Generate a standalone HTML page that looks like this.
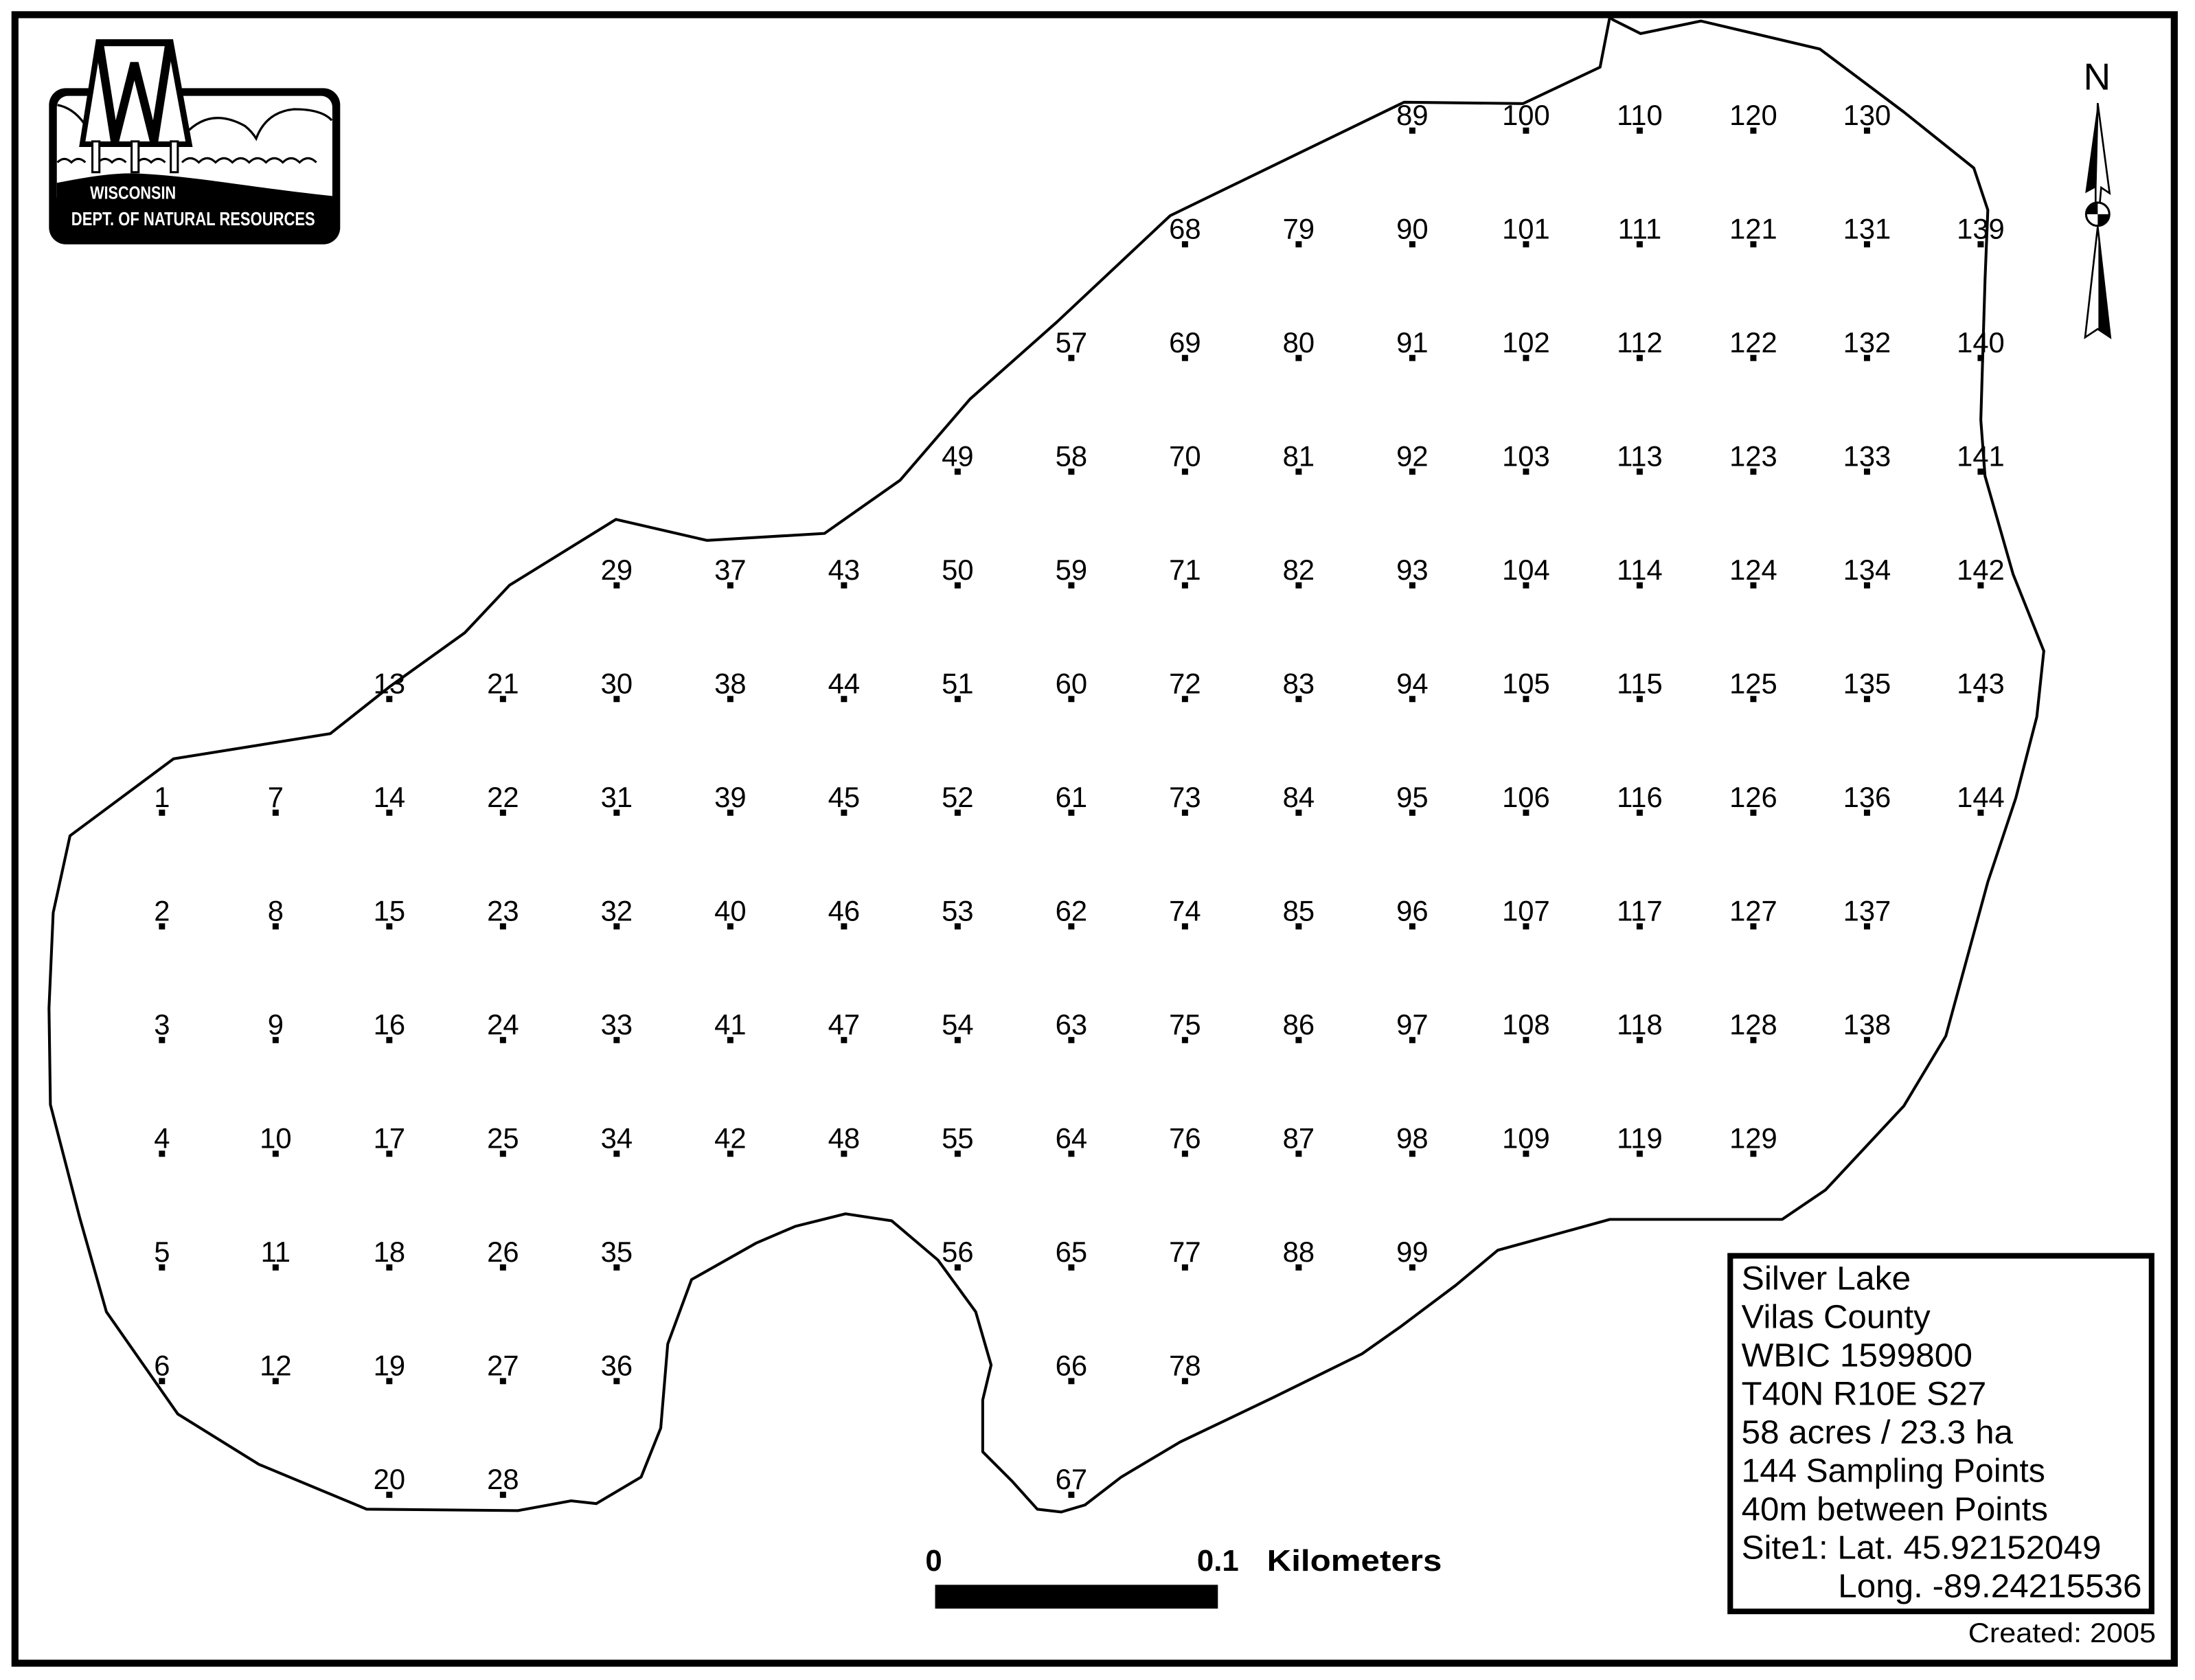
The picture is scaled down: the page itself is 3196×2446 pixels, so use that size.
<!DOCTYPE html>
<html><head><meta charset="utf-8"><style>
html,body{margin:0;padding:0;background:#fff;}
svg{display:block;}
.l text{font-family:"Liberation Sans",Arial,sans-serif;font-size:20.5px;text-anchor:middle;fill:#000;}
</style></head><body>
<svg width="3196" height="2446" viewBox="0 0 1568 1200" preserveAspectRatio="none" xmlns="http://www.w3.org/2000/svg">
<defs><rect id="d" x="-2.2" y="-2.2" width="4.4" height="4.4" fill="#000"/></defs>
<rect x="0" y="0" width="1568" height="1200" fill="#fff"/>
<rect x="10.7" y="10.5" width="1542.5" height="1177.5" fill="none" stroke="#000" stroke-width="5"/>

<polygon fill="none" stroke="#000" stroke-width="2" stroke-linejoin="round" points="1150,12 1143,48 1088,74 1003,73 836,154 755,230 693,285 643,343 589,381 505,386 440,371 364,418 332,452 279,490 236,524 124,542 50,597 38,652 35,720 36,789 57,870 76,937 127,1010 185,1046 262,1078 370,1079 408,1072 426,1074 458,1055 472,1020 477,960 494,914 540,888 568,876 604,867 637,872 670,900 697,937 708,975 702,1000 702,1037 723,1058 741,1078 758,1080 775,1075 801,1055 843,1030 910,998 973,967 1000,948 1040,918 1070,893 1150,871 1273,871 1304,850 1360,790 1390,740 1420,630 1440,570 1455,512 1460,465 1438,410 1418,340 1415,300 1418,200 1420,150 1410,120 1360,80 1300,35 1215,15 1172,24 1152,14"/>

<g>
<rect x="35" y="63" width="208" height="111.5" rx="12" fill="#000"/>
<rect x="40.6" y="68.5" width="196.8" height="80" rx="8" fill="#fff"/>
<path d="M40.6,130.6 C60,127 80,123 100,124 C140,126 180,134 237.4,140 L237.4,170 L40.6,170 Z" fill="#000"/>
<path d="M41,75 Q52,77 60,88 M132,96 Q150,76 175,90 Q180,94 183,99 Q190,80 210,78 Q230,78 237,86" fill="none" stroke="#000" stroke-width="1.6"/>
<path d="M41,116 q5,-5 10,0 q5,-5 10,0 M70,116 q5,-5 10,0 q5,-5 10,0 M98,116 q5,-5 10,0 q5,-5 10,0 M130,116 q6,-6 12,0 q6,-6 12,0 q6,-6 12,0 q6,-6 12,0 q6,-6 12,0 q6,-6 12,0 q6,-6 12,0 q6,-6 12,0" fill="none" stroke="#000" stroke-width="1.5"/>
<polygon points="68.6,28 123.6,28 137.6,105 56.5,105" fill="#000"/>
<polygon points="72,33 120,33 132.5,101 61,101" fill="#fff"/>
<polyline points="71,31 82,101 96,45 110,101 121,31" fill="none" stroke="#000" stroke-width="6" stroke-linejoin="miter"/>
<rect x="66" y="101" width="5" height="22" fill="#fff" stroke="#000" stroke-width="1.5"/>
<rect x="94" y="101" width="5" height="22" fill="#fff" stroke="#000" stroke-width="1.5"/>
<rect x="122" y="101" width="5" height="22" fill="#fff" stroke="#000" stroke-width="1.5"/>
<text x="95" y="142" font-family="Liberation Sans,Arial,sans-serif" font-weight="bold" font-size="12.5" fill="#fff" text-anchor="middle" transform="translate(95,0) scale(0.85,1) translate(-95,0)">WISCONSIN</text>
<text x="138" y="161" font-family="Liberation Sans,Arial,sans-serif" font-weight="bold" font-size="13.5" fill="#fff" text-anchor="middle" transform="translate(138,0) scale(0.8,1) translate(-138,0)">DEPT. OF NATURAL RESOURCES</text>
</g>

<g>
<text x="1498" y="64" font-family="Liberation Sans,Arial,sans-serif" font-size="27" text-anchor="middle">N</text>
<polygon points="1498.5,73.6 1489.6,138 1497,134 1498.5,134" fill="#000"/>
<polygon points="1498.5,73.6 1507,138 1501,134 1500,145 1497,145 1497,134" fill="#fff" stroke="#000" stroke-width="1.3"/>
<circle cx="1498.5" cy="153" r="8.3" fill="#fff" stroke="#000" stroke-width="1.5"/>
<path d="M1498.5,153 L1490.2,153 A8.3,8.3 0 0 1 1498.5,144.7 Z" fill="#000"/>
<path d="M1498.5,153 L1506.8,153 A8.3,8.3 0 0 1 1498.5,161.3 Z" fill="#000"/>
<polygon points="1498.5,162 1489.5,241 1498.5,235 1507.5,241" fill="#fff" stroke="#000" stroke-width="1.3"/>
<polygon points="1499,165 1507.5,241 1499,235" fill="#000"/>
</g>

<g font-family="Liberation Sans,Arial,sans-serif" font-weight="bold" font-size="21.5">
<text x="667" y="1122" text-anchor="middle">0</text>
<text x="870" y="1122" text-anchor="middle">0.1</text>
<text x="905" y="1122" textLength="125" lengthAdjust="spacingAndGlyphs">Kilometers</text>
<rect x="668" y="1132" width="202" height="17" fill="#000"/>
</g>

<rect x="1236" y="897" width="301" height="254" fill="#fff" stroke="#000" stroke-width="4"/>
<g font-family="Liberation Sans,Arial,sans-serif" font-size="23.5" fill="#000">
<text x="1244" y="921" textLength="121" lengthAdjust="spacingAndGlyphs">Silver Lake</text>
<text x="1244" y="948.5" textLength="135" lengthAdjust="spacingAndGlyphs">Vilas County</text>
<text x="1244" y="976" textLength="165" lengthAdjust="spacingAndGlyphs">WBIC 1599800</text>
<text x="1244" y="1003.5" textLength="175" lengthAdjust="spacingAndGlyphs">T40N R10E S27</text>
<text x="1244" y="1031" textLength="194" lengthAdjust="spacingAndGlyphs">58 acres / 23.3 ha</text>
<text x="1244" y="1058.5" textLength="217" lengthAdjust="spacingAndGlyphs">144 Sampling Points</text>
<text x="1244" y="1086" textLength="219" lengthAdjust="spacingAndGlyphs">40m between Points</text>
<text x="1244" y="1113.5" textLength="257" lengthAdjust="spacingAndGlyphs">Site1: Lat. 45.92152049</text>
<text x="1313" y="1141" textLength="217" lengthAdjust="spacingAndGlyphs">Long. -89.24215536</text>
</g>
<text x="1406" y="1173" font-family="Liberation Sans,Arial,sans-serif" font-size="19.5" textLength="134" lengthAdjust="spacingAndGlyphs">Created: 2005</text>

<g class="l">
<g transform="translate(115.7,580.5)"><text y="-4">1</text><use href="#d"/></g>
<g transform="translate(115.7,661.7)"><text y="-4">2</text><use href="#d"/></g>
<g transform="translate(115.7,742.9)"><text y="-4">3</text><use href="#d"/></g>
<g transform="translate(115.7,824.1)"><text y="-4">4</text><use href="#d"/></g>
<g transform="translate(115.7,905.3)"><text y="-4">5</text><use href="#d"/></g>
<g transform="translate(115.7,986.5)"><text y="-4">6</text><use href="#d"/></g>

<g transform="translate(196.9,580.5)"><text y="-4">7</text><use href="#d"/></g>
<g transform="translate(196.9,661.7)"><text y="-4">8</text><use href="#d"/></g>
<g transform="translate(196.9,742.9)"><text y="-4">9</text><use href="#d"/></g>
<g transform="translate(196.9,824.1)"><text y="-4">10</text><use href="#d"/></g>
<g transform="translate(196.9,905.3)"><text y="-4">11</text><use href="#d"/></g>
<g transform="translate(196.9,986.5)"><text y="-4">12</text><use href="#d"/></g>

<g transform="translate(278.1,499.3)"><text y="-4">13</text><use href="#d"/></g>
<g transform="translate(278.1,580.5)"><text y="-4">14</text><use href="#d"/></g>
<g transform="translate(278.1,661.7)"><text y="-4">15</text><use href="#d"/></g>
<g transform="translate(278.1,742.9)"><text y="-4">16</text><use href="#d"/></g>
<g transform="translate(278.1,824.1)"><text y="-4">17</text><use href="#d"/></g>
<g transform="translate(278.1,905.3)"><text y="-4">18</text><use href="#d"/></g>
<g transform="translate(278.1,986.5)"><text y="-4">19</text><use href="#d"/></g>
<g transform="translate(278.1,1067.7)"><text y="-4">20</text><use href="#d"/></g>

<g transform="translate(359.3,499.3)"><text y="-4">21</text><use href="#d"/></g>
<g transform="translate(359.3,580.5)"><text y="-4">22</text><use href="#d"/></g>
<g transform="translate(359.3,661.7)"><text y="-4">23</text><use href="#d"/></g>
<g transform="translate(359.3,742.9)"><text y="-4">24</text><use href="#d"/></g>
<g transform="translate(359.3,824.1)"><text y="-4">25</text><use href="#d"/></g>
<g transform="translate(359.3,905.3)"><text y="-4">26</text><use href="#d"/></g>
<g transform="translate(359.3,986.5)"><text y="-4">27</text><use href="#d"/></g>
<g transform="translate(359.3,1067.7)"><text y="-4">28</text><use href="#d"/></g>

<g transform="translate(440.5,418.1)"><text y="-4">29</text><use href="#d"/></g>
<g transform="translate(440.5,499.3)"><text y="-4">30</text><use href="#d"/></g>
<g transform="translate(440.5,580.5)"><text y="-4">31</text><use href="#d"/></g>
<g transform="translate(440.5,661.7)"><text y="-4">32</text><use href="#d"/></g>
<g transform="translate(440.5,742.9)"><text y="-4">33</text><use href="#d"/></g>
<g transform="translate(440.5,824.1)"><text y="-4">34</text><use href="#d"/></g>
<g transform="translate(440.5,905.3)"><text y="-4">35</text><use href="#d"/></g>
<g transform="translate(440.5,986.5)"><text y="-4">36</text><use href="#d"/></g>

<g transform="translate(521.7,418.1)"><text y="-4">37</text><use href="#d"/></g>
<g transform="translate(521.7,499.3)"><text y="-4">38</text><use href="#d"/></g>
<g transform="translate(521.7,580.5)"><text y="-4">39</text><use href="#d"/></g>
<g transform="translate(521.7,661.7)"><text y="-4">40</text><use href="#d"/></g>
<g transform="translate(521.7,742.9)"><text y="-4">41</text><use href="#d"/></g>
<g transform="translate(521.7,824.1)"><text y="-4">42</text><use href="#d"/></g>

<g transform="translate(602.9,418.1)"><text y="-4">43</text><use href="#d"/></g>
<g transform="translate(602.9,499.3)"><text y="-4">44</text><use href="#d"/></g>
<g transform="translate(602.9,580.5)"><text y="-4">45</text><use href="#d"/></g>
<g transform="translate(602.9,661.7)"><text y="-4">46</text><use href="#d"/></g>
<g transform="translate(602.9,742.9)"><text y="-4">47</text><use href="#d"/></g>
<g transform="translate(602.9,824.1)"><text y="-4">48</text><use href="#d"/></g>

<g transform="translate(684.1,336.9)"><text y="-4">49</text><use href="#d"/></g>
<g transform="translate(684.1,418.1)"><text y="-4">50</text><use href="#d"/></g>
<g transform="translate(684.1,499.3)"><text y="-4">51</text><use href="#d"/></g>
<g transform="translate(684.1,580.5)"><text y="-4">52</text><use href="#d"/></g>
<g transform="translate(684.1,661.7)"><text y="-4">53</text><use href="#d"/></g>
<g transform="translate(684.1,742.9)"><text y="-4">54</text><use href="#d"/></g>
<g transform="translate(684.1,824.1)"><text y="-4">55</text><use href="#d"/></g>
<g transform="translate(684.1,905.3)"><text y="-4">56</text><use href="#d"/></g>

<g transform="translate(765.3,255.7)"><text y="-4">57</text><use href="#d"/></g>
<g transform="translate(765.3,336.9)"><text y="-4">58</text><use href="#d"/></g>
<g transform="translate(765.3,418.1)"><text y="-4">59</text><use href="#d"/></g>
<g transform="translate(765.3,499.3)"><text y="-4">60</text><use href="#d"/></g>
<g transform="translate(765.3,580.5)"><text y="-4">61</text><use href="#d"/></g>
<g transform="translate(765.3,661.7)"><text y="-4">62</text><use href="#d"/></g>
<g transform="translate(765.3,742.9)"><text y="-4">63</text><use href="#d"/></g>
<g transform="translate(765.3,824.1)"><text y="-4">64</text><use href="#d"/></g>
<g transform="translate(765.3,905.3)"><text y="-4">65</text><use href="#d"/></g>
<g transform="translate(765.3,986.5)"><text y="-4">66</text><use href="#d"/></g>
<g transform="translate(765.3,1067.7)"><text y="-4">67</text><use href="#d"/></g>

<g transform="translate(846.5,174.5)"><text y="-4">68</text><use href="#d"/></g>
<g transform="translate(846.5,255.7)"><text y="-4">69</text><use href="#d"/></g>
<g transform="translate(846.5,336.9)"><text y="-4">70</text><use href="#d"/></g>
<g transform="translate(846.5,418.1)"><text y="-4">71</text><use href="#d"/></g>
<g transform="translate(846.5,499.3)"><text y="-4">72</text><use href="#d"/></g>
<g transform="translate(846.5,580.5)"><text y="-4">73</text><use href="#d"/></g>
<g transform="translate(846.5,661.7)"><text y="-4">74</text><use href="#d"/></g>
<g transform="translate(846.5,742.9)"><text y="-4">75</text><use href="#d"/></g>
<g transform="translate(846.5,824.1)"><text y="-4">76</text><use href="#d"/></g>
<g transform="translate(846.5,905.3)"><text y="-4">77</text><use href="#d"/></g>
<g transform="translate(846.5,986.5)"><text y="-4">78</text><use href="#d"/></g>

<g transform="translate(927.7,174.5)"><text y="-4">79</text><use href="#d"/></g>
<g transform="translate(927.7,255.7)"><text y="-4">80</text><use href="#d"/></g>
<g transform="translate(927.7,336.9)"><text y="-4">81</text><use href="#d"/></g>
<g transform="translate(927.7,418.1)"><text y="-4">82</text><use href="#d"/></g>
<g transform="translate(927.7,499.3)"><text y="-4">83</text><use href="#d"/></g>
<g transform="translate(927.7,580.5)"><text y="-4">84</text><use href="#d"/></g>
<g transform="translate(927.7,661.7)"><text y="-4">85</text><use href="#d"/></g>
<g transform="translate(927.7,742.9)"><text y="-4">86</text><use href="#d"/></g>
<g transform="translate(927.7,824.1)"><text y="-4">87</text><use href="#d"/></g>
<g transform="translate(927.7,905.3)"><text y="-4">88</text><use href="#d"/></g>

<g transform="translate(1008.9,93.3)"><text y="-4">89</text><use href="#d"/></g>
<g transform="translate(1008.9,174.5)"><text y="-4">90</text><use href="#d"/></g>
<g transform="translate(1008.9,255.7)"><text y="-4">91</text><use href="#d"/></g>
<g transform="translate(1008.9,336.9)"><text y="-4">92</text><use href="#d"/></g>
<g transform="translate(1008.9,418.1)"><text y="-4">93</text><use href="#d"/></g>
<g transform="translate(1008.9,499.3)"><text y="-4">94</text><use href="#d"/></g>
<g transform="translate(1008.9,580.5)"><text y="-4">95</text><use href="#d"/></g>
<g transform="translate(1008.9,661.7)"><text y="-4">96</text><use href="#d"/></g>
<g transform="translate(1008.9,742.9)"><text y="-4">97</text><use href="#d"/></g>
<g transform="translate(1008.9,824.1)"><text y="-4">98</text><use href="#d"/></g>
<g transform="translate(1008.9,905.3)"><text y="-4">99</text><use href="#d"/></g>

<g transform="translate(1090.1,93.3)"><text y="-4">100</text><use href="#d"/></g>
<g transform="translate(1090.1,174.5)"><text y="-4">101</text><use href="#d"/></g>
<g transform="translate(1090.1,255.7)"><text y="-4">102</text><use href="#d"/></g>
<g transform="translate(1090.1,336.9)"><text y="-4">103</text><use href="#d"/></g>
<g transform="translate(1090.1,418.1)"><text y="-4">104</text><use href="#d"/></g>
<g transform="translate(1090.1,499.3)"><text y="-4">105</text><use href="#d"/></g>
<g transform="translate(1090.1,580.5)"><text y="-4">106</text><use href="#d"/></g>
<g transform="translate(1090.1,661.7)"><text y="-4">107</text><use href="#d"/></g>
<g transform="translate(1090.1,742.9)"><text y="-4">108</text><use href="#d"/></g>
<g transform="translate(1090.1,824.1)"><text y="-4">109</text><use href="#d"/></g>

<g transform="translate(1171.3,93.3)"><text y="-4">110</text><use href="#d"/></g>
<g transform="translate(1171.3,174.5)"><text y="-4">111</text><use href="#d"/></g>
<g transform="translate(1171.3,255.7)"><text y="-4">112</text><use href="#d"/></g>
<g transform="translate(1171.3,336.9)"><text y="-4">113</text><use href="#d"/></g>
<g transform="translate(1171.3,418.1)"><text y="-4">114</text><use href="#d"/></g>
<g transform="translate(1171.3,499.3)"><text y="-4">115</text><use href="#d"/></g>
<g transform="translate(1171.3,580.5)"><text y="-4">116</text><use href="#d"/></g>
<g transform="translate(1171.3,661.7)"><text y="-4">117</text><use href="#d"/></g>
<g transform="translate(1171.3,742.9)"><text y="-4">118</text><use href="#d"/></g>
<g transform="translate(1171.3,824.1)"><text y="-4">119</text><use href="#d"/></g>

<g transform="translate(1252.5,93.3)"><text y="-4">120</text><use href="#d"/></g>
<g transform="translate(1252.5,174.5)"><text y="-4">121</text><use href="#d"/></g>
<g transform="translate(1252.5,255.7)"><text y="-4">122</text><use href="#d"/></g>
<g transform="translate(1252.5,336.9)"><text y="-4">123</text><use href="#d"/></g>
<g transform="translate(1252.5,418.1)"><text y="-4">124</text><use href="#d"/></g>
<g transform="translate(1252.5,499.3)"><text y="-4">125</text><use href="#d"/></g>
<g transform="translate(1252.5,580.5)"><text y="-4">126</text><use href="#d"/></g>
<g transform="translate(1252.5,661.7)"><text y="-4">127</text><use href="#d"/></g>
<g transform="translate(1252.5,742.9)"><text y="-4">128</text><use href="#d"/></g>
<g transform="translate(1252.5,824.1)"><text y="-4">129</text><use href="#d"/></g>

<g transform="translate(1333.7,93.3)"><text y="-4">130</text><use href="#d"/></g>
<g transform="translate(1333.7,174.5)"><text y="-4">131</text><use href="#d"/></g>
<g transform="translate(1333.7,255.7)"><text y="-4">132</text><use href="#d"/></g>
<g transform="translate(1333.7,336.9)"><text y="-4">133</text><use href="#d"/></g>
<g transform="translate(1333.7,418.1)"><text y="-4">134</text><use href="#d"/></g>
<g transform="translate(1333.7,499.3)"><text y="-4">135</text><use href="#d"/></g>
<g transform="translate(1333.7,580.5)"><text y="-4">136</text><use href="#d"/></g>
<g transform="translate(1333.7,661.7)"><text y="-4">137</text><use href="#d"/></g>
<g transform="translate(1333.7,742.9)"><text y="-4">138</text><use href="#d"/></g>

<g transform="translate(1414.9,174.5)"><text y="-4">139</text><use href="#d"/></g>
<g transform="translate(1414.9,255.7)"><text y="-4">140</text><use href="#d"/></g>
<g transform="translate(1414.9,336.9)"><text y="-4">141</text><use href="#d"/></g>
<g transform="translate(1414.9,418.1)"><text y="-4">142</text><use href="#d"/></g>
<g transform="translate(1414.9,499.3)"><text y="-4">143</text><use href="#d"/></g>
<g transform="translate(1414.9,580.5)"><text y="-4">144</text><use href="#d"/></g>
</g>
</svg>
</body></html>
